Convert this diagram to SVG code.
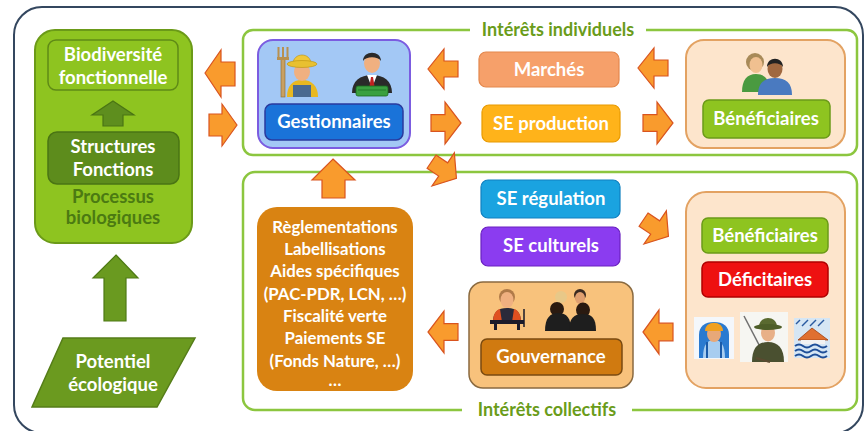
<svg xmlns="http://www.w3.org/2000/svg" width="865" height="431" viewBox="0 0 865 431">
  <style>
    text { font-family: Lato, "Liberation Sans", sans-serif; font-weight: 700; text-anchor: middle; }
    .w { fill: #ffffff; font-size: 18.5px; }
    .ws { fill: #ffffff; font-size: 16.8px; }
    .lbl { fill: #6a9c1a; font-size: 18px; }
    .dg { fill: #4b7a12; font-size: 18.5px; }
    .arr { fill: #f99b2d; stroke: #d9541f; stroke-width: 1.2; stroke-linejoin: miter; }
    .garr { fill: #5e8e1e; stroke: #4a7414; stroke-width: 1.2; }
    .band { fill: none; stroke: #8cc63f; stroke-width: 2.5; }
    .peach { fill: #fde5cc; stroke: #e3a262; stroke-width: 2; }
  </style>
  <defs>
    <!-- block arrow pointing right, centred on the origin -->
    <polygon id="blk" points="-15,-8 -1,-8 -1,-20 15,0 -1,20 -1,8 -15,8"/>
  </defs>

  <rect width="865" height="431" fill="#ffffff"/>

  <!-- outer frame -->
  <rect x="14" y="7" width="849" height="426" rx="28" fill="none" stroke="#34475f" stroke-width="2"/>

  <!-- interest bands -->
  <g id="band-individuel">
    <rect class="band" x="243" y="30" width="614" height="125" rx="10"/>
    <rect x="470" y="17" width="176" height="26" fill="#ffffff"/>
    <text class="lbl" x="558" y="36">Intérêts individuels</text>
  </g>
  <g id="band-collectif">
    <rect class="band" x="243" y="172" width="614" height="238" rx="12"/>
    <rect x="462" y="397" width="170" height="26" fill="#ffffff"/>
    <text class="lbl" x="547" y="416">Intérêts collectifs</text>
  </g>

  <!-- ecological column -->
  <g id="biodiversite">
    <rect x="35" y="30" width="157" height="213" rx="20" fill="#8ec420" stroke="#6b9a18" stroke-width="2"/>
    <rect x="48" y="40" width="130" height="50" rx="8" fill="#8ec420" stroke="#5f8a16" stroke-width="1.5"/>
    <text class="w" x="113" y="61">Biodiversité</text>
    <text class="w" x="113" y="84">fonctionnelle</text>
    <polygon class="garr" points="113,101 134,115 123,115 123,126 103,126 103,115 92,115"/>
    <rect x="48" y="132" width="131" height="52" rx="9" fill="#5d8c1c" stroke="#4a7414" stroke-width="1.5"/>
    <text class="w" x="113" y="153">Structures</text>
    <text class="w" x="113" y="176">Fonctions</text>
    <text class="dg" x="113" y="203">Processus</text>
    <text class="dg" x="113" y="224">biologiques</text>
  </g>

  <g id="potentiel">
    <polygon points="63,338 195,338 157,407 32,407" fill="#6b9a1f" stroke="#557d18" stroke-width="1.5"/>
    <text class="w" x="113" y="368">Potentiel</text>
    <text class="w" x="113" y="391">écologique</text>
  </g>

  <!-- manager node -->
  <g id="gestionnaires">
    <rect x="258" y="40" width="152" height="108" rx="15" fill="#a3c8f5" stroke="#7b5ce0" stroke-width="2"/>
    <!-- farmer -->
    <rect x="281" y="59" width="4" height="38" fill="#c9a062" stroke="#8a6a30" stroke-width="0.6"/>
    <rect x="277" y="57" width="12" height="3" fill="#b89050"/>
    <rect x="277.5" y="47" width="2" height="11" fill="#b89050"/>
    <rect x="282" y="47" width="2" height="11" fill="#b89050"/>
    <rect x="286.5" y="47" width="2" height="11" fill="#b89050"/>
    <path d="M287,97 C287,86 292,80 302,80 C312,80 318,86 318,97 Z" fill="#e8b820"/>
    <path d="M293,97 L293,85 L311,85 L311,97 Z" fill="#4a6a90"/>
    <ellipse cx="302" cy="72" rx="8" ry="9" fill="#f0b080"/>
    <path d="M293,64 C293,52 311,52 311,64 Z" fill="#f0c838" stroke="#b89010" stroke-width="0.6"/>
    <ellipse cx="302" cy="64" rx="15" ry="3.5" fill="#e8c030" stroke="#b89010" stroke-width="0.6"/>
    <!-- businessman -->
    <path d="M352,93 C352,81 360,75 372,75 C384,75 392,81 392,93 Z" fill="#2a2a2a"/>
    <polygon points="367,75 377,75 372,88" fill="#ffffff"/>
    <polygon points="371,77 373,77 374.5,86 372,89 369.5,86" fill="#c02020"/>
    <ellipse cx="372" cy="63" rx="8" ry="10" fill="#f0b080"/>
    <path d="M363,61 C363,50 381,50 381,61 C378,56 366,56 363,61 Z" fill="#2a2a2a"/>
    <rect x="356" y="86" width="32" height="10" rx="2" fill="#3aa040" stroke="#1a6a20" stroke-width="0.8"/>
    <line x1="358" y1="90" x2="386" y2="90" stroke="#1a6a20" stroke-width="0.7"/>
    <rect x="265" y="104" width="138" height="36" rx="7" fill="#1a73d9" stroke="#2a3a9e" stroke-width="1.5"/>
    <text class="w" x="334" y="128">Gestionnaires</text>
  </g>

  <g id="marches">
    <rect x="479" y="52" width="140" height="35" rx="7" fill="#f6a06a" stroke="#e3874d" stroke-width="1.2"/>
    <text class="w" x="549" y="76">Marchés</text>
  </g>

  <g id="se-production">
    <rect x="482" y="105" width="138" height="37" rx="7" fill="#ffb31a" stroke="#e89a00" stroke-width="1.2"/>
    <text class="w" x="551" y="130">SE production</text>
  </g>

  <g id="beneficiaires-individuels">
    <rect class="peach" x="686" y="40" width="159" height="108" rx="18"/>
    <!-- pair of people -->
    <circle cx="755" cy="62" r="9" fill="#a88a58"/>
    <ellipse cx="756" cy="65" rx="6.5" ry="8" fill="#f0c090"/>
    <path d="M742,92 C742,80 747,74 756,74 C765,74 770,80 770,92 Z" fill="#4a9a40"/>
    <path d="M758,95 C758,83 764,78 775,78 C786,78 792,83 792,95 Z" fill="#4a7ac0"/>
    <ellipse cx="775" cy="69" rx="7.5" ry="9" fill="#a06840"/>
    <path d="M767,67 C767,56 783,56 783,67 C780,62 770,62 767,67 Z" fill="#222222"/>
    <rect x="703" y="100" width="127" height="38" rx="6" fill="#8ec420" stroke="#6b9a18" stroke-width="1.5"/>
    <text class="w" x="766" y="125">Bénéficiaires</text>
  </g>

  <g id="reglementations">
    <rect x="257" y="207" width="156" height="184" rx="20" fill="#d98312"/>
    <text class="ws" x="335" y="233">Règlementations</text>
    <text class="ws" x="335" y="255">Labellisations</text>
    <text class="ws" x="335" y="277">Aides spécifiques</text>
    <text class="ws" x="335" y="300">(PAC-PDR, LCN, …)</text>
    <text class="ws" x="335" y="322">Fiscalité verte</text>
    <text class="ws" x="335" y="344">Paiements SE</text>
    <text class="ws" x="335" y="367">(Fonds Nature, …)</text>
    <text class="ws" x="335" y="386">…</text>
  </g>

  <g id="se-regulation">
    <rect x="481" y="180" width="139" height="38" rx="7" fill="#1aa3e0" stroke="#1080c0" stroke-width="1.2"/>
    <text class="w" x="551" y="205">SE régulation</text>
  </g>

  <g id="se-culturels">
    <rect x="481" y="227" width="139" height="39" rx="7" fill="#8b3cf0" stroke="#6a20c0" stroke-width="1.2"/>
    <text class="w" x="551" y="252">SE culturels</text>
  </g>

  <g id="gouvernance">
    <rect x="469" y="282" width="164" height="106" rx="14" fill="#f8c27c" stroke="#8a6a40" stroke-width="1.5"/>
    <!-- speaker at lectern -->
    <circle cx="507" cy="297" r="8" fill="#b07a48"/>
    <ellipse cx="507" cy="300" rx="6.5" ry="8" fill="#f0b080"/>
    <path d="M493,322 C493,312 498,308 507,308 C516,308 521,312 521,322 Z" fill="#2a2a3a"/>
    <path d="M493,322 C493,314 496,310 500,309 L502,322 Z" fill="#e05020"/>
    <path d="M521,322 C521,314 518,310 514,309 L512,322 Z" fill="#e05020"/>
    <rect x="490" y="320" width="34" height="4" fill="#1a1a2a"/>
    <rect x="494" y="324" width="3" height="6" fill="#1a1a2a"/>
    <rect x="517" y="324" width="3" height="6" fill="#1a1a2a"/>
    <line x1="524" y1="309" x2="524" y2="327" stroke="#1a1a2a" stroke-width="1.5"/>
    <!-- group discussing -->
    <circle cx="561" cy="297" r="6" fill="#e8c888"/>
    <circle cx="580" cy="295" r="6" fill="#3a2a20"/>
    <ellipse cx="580" cy="298" rx="5" ry="6" fill="#e0a070"/>
    <ellipse cx="557" cy="309" rx="7" ry="7" fill="#2a1a10"/>
    <ellipse cx="583" cy="310" rx="7" ry="7.5" fill="#2a1a10"/>
    <path d="M545,331 C545,318 550,313 558,313 C567,313 571,318 571,331 Z" fill="#1e1e1e"/>
    <path d="M569,331 C569,318 574,314 583,314 C592,314 596,318 596,331 Z" fill="#1e1e1e"/>
    <rect x="481" y="339" width="141" height="36" rx="6" fill="#d07a10" stroke="#7a4a10" stroke-width="1.5"/>
    <text class="w" x="551" y="363">Gouvernance</text>
  </g>

  <g id="usagers-collectifs">
    <rect class="peach" x="686" y="192" width="159" height="196" rx="20"/>
    <rect x="702" y="218" width="126" height="35" rx="6" fill="#8ec420" stroke="#6b9a18" stroke-width="1.5"/>
    <text class="w" x="765" y="242">Bénéficiaires</text>
    <rect x="702" y="262" width="126" height="35" rx="6" fill="#ee1111" stroke="#b00000" stroke-width="1.5"/>
    <text class="w" x="765" y="286">Déficitaires</text>
    <!-- hiker -->
    <rect x="694" y="317" width="40" height="42" fill="#f4f7fb"/>
    <path d="M699,358 L699,335 C699,326 705,322 714,322 C723,322 729,326 729,335 L729,358 Z" fill="#2a7ad0"/>
    <path d="M703,358 C703,345 707,340 714,340 C721,340 725,345 725,358 Z" fill="#a8cdf0"/>
    <ellipse cx="714" cy="334" rx="7" ry="8" fill="#e8a878"/>
    <path d="M705,331 C705,320 723,320 723,331 Z" fill="#f0a020"/>
    <line x1="707" y1="342" x2="707" y2="358" stroke="#1a5aa8" stroke-width="2"/>
    <line x1="721" y1="342" x2="721" y2="358" stroke="#1a5aa8" stroke-width="2"/>
    <!-- angler -->
    <rect x="740" y="312" width="48" height="50" fill="#f6f6f2"/>
    <line x1="744" y1="316" x2="768" y2="362" stroke="#707070" stroke-width="1.5"/>
    <path d="M752,362 C752,348 758,342 768,342 C778,342 784,348 784,362 Z" fill="#4a5030"/>
    <ellipse cx="768" cy="333" rx="7" ry="8.5" fill="#e8b088"/>
    <path d="M759,327 C759,315 777,315 777,327 Z" fill="#5a6a30"/>
    <ellipse cx="768" cy="327" rx="14" ry="3" fill="#4e5e28"/>
    <line x1="756" y1="358" x2="770" y2="362" stroke="#5a4a30" stroke-width="2"/>
    <!-- flooded house -->
    <rect x="794" y="318" width="36" height="40" fill="#d6e6f4"/>
    <g stroke="#2a5aa0" stroke-width="1.5">
      <line x1="796" y1="324" x2="800" y2="320"/>
      <line x1="802" y1="326" x2="808" y2="320"/>
      <line x1="810" y1="326" x2="816" y2="320"/>
      <line x1="818" y1="326" x2="824" y2="320"/>
    </g>
    <polygon points="798,340 812,328 828,340" fill="#e07030" stroke="#a04010" stroke-width="0.8"/>
    <rect x="801" y="340" width="24" height="4" fill="#f2f2f2"/>
    <g fill="none" stroke="#1e4e98" stroke-width="2">
      <path d="M795,346 q4,-3 8,0 t8,0 t8,0 t8,0"/>
      <path d="M795,351 q4,-3 8,0 t8,0 t8,0 t8,0"/>
      <path d="M795,356 q4,-3 8,0 t8,0 t8,0 t8,0"/>
    </g>
  </g>

  <!-- connectors -->
  <g id="connectors">
    <polygon class="garr" points="116,255 138,278 126,278 126,321 104,321 104,278 93,278" style="fill:#6a9a20;stroke:#4e7a14"/>
    <!-- managers to functional biodiversity and back -->
    <polygon class="arr" points="205,73 221,50 221,62 235,62 235,86 221,86 221,97"/>
    <polygon class="arr" points="237,125 222,104 222,114 209,114 209,136 222,136 222,146"/>
    <!-- individual band -->
    <use href="#blk" class="arr" transform="translate(443,69) rotate(180)"/>
    <use href="#blk" class="arr" transform="translate(446,123) scale(1,1.05)"/>
    <use href="#blk" class="arr" transform="translate(653,68) rotate(180)"/>
    <use href="#blk" class="arr" transform="translate(658,123) scale(1,1.05)"/>
    <!-- managers towards regulating services -->
    <use href="#blk" class="arr" transform="translate(444,170) rotate(34)"/>
    <!-- regulation tools back to managers -->
    <polygon class="arr" points="333,159 355,180 345,180 345,198 322,198 322,180 312,180"/>
    <!-- collective band -->
    <use href="#blk" class="arr" transform="translate(656,228) rotate(34)"/>
    <use href="#blk" class="arr" transform="translate(658,332) rotate(180) scale(1,1.1)"/>
    <use href="#blk" class="arr" transform="translate(443,332) rotate(180) scale(1,1.05)"/>
  </g>
</svg>
